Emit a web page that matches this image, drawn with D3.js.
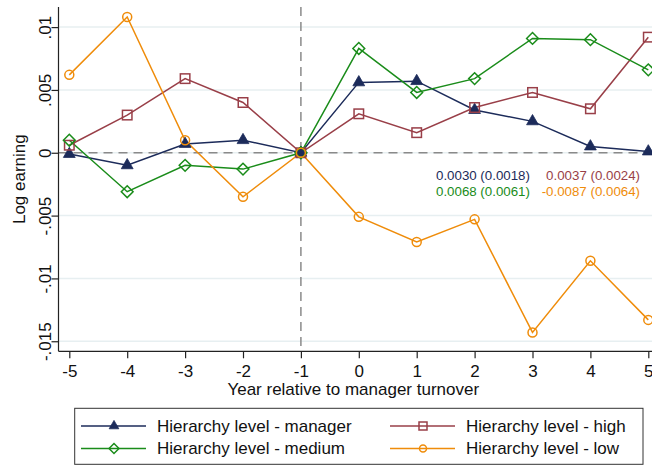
<!DOCTYPE html>
<html><head><meta charset="utf-8">
<script src="https://cdn.jsdelivr.net/npm/d3@7"></script>
<style>body{margin:0;background:#fff}svg{display:block;font-family:"Liberation Sans",Arial,sans-serif}</style>
</head><body><svg id="c" width="652" height="466"></svg>
<script>
const years = [-5,-4,-3,-2,-1,0,1,2,3,4,5];
const manager = [-0.0001,-0.001,0.0007,0.001,0,0.0056,0.0057,0.0034,0.0025,0.0005,0.0001];
const high = [0.0006,0.003,0.0059,0.004,0,0.0031,0.0016,0.0036,0.0048,0.0035,0.0092];
const medium = [0.001,-0.0031,-0.001,-0.0013,0,0.0083,0.0048,0.0059,0.0091,0.009,0.0066];
const low = [0.0062,0.0108,0.001,-0.0035,0,-0.0051,-0.0071,-0.0053,-0.0143,-0.0086,-0.0133];
const yTicks = [-0.015,-0.01,-0.005,0,0.005,0.01];
const yTickLabels = ["-.015","-.01","-.005","0",".005",".01"];
const seriesNames = ["Hierarchy level - manager","Hierarchy level - high","Hierarchy level - medium","Hierarchy level - low"];
const annotations = [["0.0030 (0.0018)","0.0037 (0.0024)"],["0.0068 (0.0061)","-0.0087 (0.0064)"]];

const colors = {manager:"#1c2b5a", high:"#993f48", medium:"#1a8c1a", low:"#ef8c0a"};
const series = [
  {key:"manager", name:seriesNames[0], values:manager, sym:"tri"},
  {key:"high", name:seriesNames[1], values:high, sym:"sq"},
  {key:"medium", name:seriesNames[2], values:medium, sym:"dia"},
  {key:"low", name:seriesNames[3], values:low, sym:"circ"}
];

const svg = d3.select("#c");
const L = 58.5, T = 7, B = 351.3;
const x = d3.scaleLinear().domain([-5,5]).range([69.3,648.3]);
const y = d3.scaleLinear().domain([-0.0158,0.0116]).range([B,T]);

// gridlines
svg.append("g").selectAll("line").data(yTicks).join("line")
  .attr("x1",L).attr("x2",660).attr("y1",d=>y(d)).attr("y2",d=>y(d))
  .attr("stroke","#e7eff1").attr("stroke-width",1.5);

// reference dashed lines
svg.append("line").attr("x1",L).attr("x2",660).attr("y1",y(0)).attr("y2",y(0))
  .attr("stroke","#8a8a8a").attr("stroke-width",1.5).attr("stroke-dasharray","9,6");
svg.append("line").attr("x1",x(-1)).attr("x2",x(-1)).attr("y1",T).attr("y2",B)
  .attr("stroke","#8a8a8a").attr("stroke-width",1.5).attr("stroke-dasharray","9,6");

// axes
const yAxis = d3.axisLeft(y).tickValues(yTicks).tickFormat((d,i)=>yTickLabels[i]).tickSizeOuter(0).tickSize(7).tickPadding(6);
const gy = svg.append("g").attr("transform",`translate(${L},0)`).call(yAxis);
gy.select(".domain").attr("d",`M0,${T}V${B}`).attr("stroke","#222").attr("stroke-width",1.2);
gy.selectAll(".tick line").attr("stroke","#222").attr("stroke-width",1.2);
gy.selectAll(".tick text").attr("font-size",17).attr("fill","#111")
  .attr("text-anchor","middle")
  .attr("transform","translate(-13,0) rotate(-90)").attr("x",0).attr("y",0).attr("dy","0.35em");

const xAxis = d3.axisBottom(x).tickValues(years).tickFormat(d3.format("d")).tickSizeOuter(0).tickSize(7).tickPadding(7);
const gx = svg.append("g").attr("transform",`translate(0,${B})`).call(xAxis);
gx.select(".domain").attr("d",`M${L},0H660`).attr("stroke","#222").attr("stroke-width",1.2);
gx.selectAll(".tick line").attr("stroke","#222").attr("stroke-width",1.2);
gx.selectAll(".tick text").attr("font-size",17).attr("fill","#111").text(d=> d<0 ? "-"+Math.abs(d) : String(d));

svg.append("text").attr("x",(L+648)/2).attr("y",395).attr("text-anchor","middle")
  .attr("font-size",17).attr("fill","#111").text("Year relative to manager turnover");
svg.append("text").attr("transform",`translate(25,${(T+B)/2}) rotate(-90)`).attr("text-anchor","middle")
  .attr("font-size",17).attr("fill","#111").text("Log earning");

// markers
function marker(g, sym, color, size){
  if(sym==="tri"){
    g.append("path").attr("d",d3.symbol(d3.symbolTriangle, size*size*0.5)()).attr("fill",color).attr("stroke",color).attr("stroke-width",0.8);
  } else if(sym==="sq"){
    g.append("rect").attr("x",-size/2).attr("y",-size/2).attr("width",size).attr("height",size)
      .attr("fill","none").attr("stroke",color).attr("stroke-width",1.5);
  } else if(sym==="dia"){
    const s=size*0.62;
    g.append("path").attr("d",`M0,${-s}L${s},0L0,${s}L${-s},0Z`).attr("fill","none").attr("stroke",color).attr("stroke-width",1.5);
  } else {
    g.append("circle").attr("r",size/2).attr("fill","none").attr("stroke",color).attr("stroke-width",1.5);
  }
}

const line = d3.line().x((d,i)=>x(years[i])).y(d=>y(d));
const plot = svg.append("g");
series.forEach(s=>{
  plot.append("path").attr("d",line(s.values)).attr("fill","none").attr("stroke",colors[s.key]).attr("stroke-width",1.5);
});
series.forEach(s=>{
  s.values.forEach((v,i)=>{
    const g = plot.append("g").attr("transform",`translate(${x(years[i])},${y(v)})`);
    marker(g, s.sym, colors[s.key], s.sym==="tri"?11:(s.sym==="circ"?9:9.5));
  });
});

// annotation text
const annColors = [[colors.manager, colors.high],[colors.medium, colors.low]];
const annX = [436, 640];
annotations.forEach((row,r)=>{
  svg.append("text").attr("x",annX[0]).attr("y",180+r*16).attr("font-size",13.3).attr("fill",annColors[r][0]).text(row[0]);
  svg.append("text").attr("x",annX[1]).attr("y",180+r*16).attr("text-anchor","end").attr("font-size",13.3).attr("fill",annColors[r][1]).text(row[1]);
});

// legend
svg.append("rect").attr("x",74.7).attr("y",408.3).attr("width",568.3).attr("height",56)
  .attr("fill","#fff").attr("stroke","#333").attr("stroke-width",1);
const legPos = [[81,426],[390,426],[81,448.5],[390,448.5]];
series.forEach((s,i)=>{
  const [lx,ly] = legPos[i];
  const g = svg.append("g").attr("transform",`translate(${lx},${ly})`);
  g.append("line").attr("x1",0).attr("x2",65).attr("y1",0).attr("y2",0).attr("stroke",colors[s.key]).attr("stroke-width",1.5);
  const m = g.append("g").attr("transform","translate(33,0)");
  marker(m, s.sym, colors[s.key], s.sym==="tri"?9:(s.sym==="circ"?7:8));
  g.append("text").attr("x",76).attr("y",0).attr("dy","0.35em").attr("font-size",17).attr("fill","#111").text(s.name);
});
</script></body></html>
